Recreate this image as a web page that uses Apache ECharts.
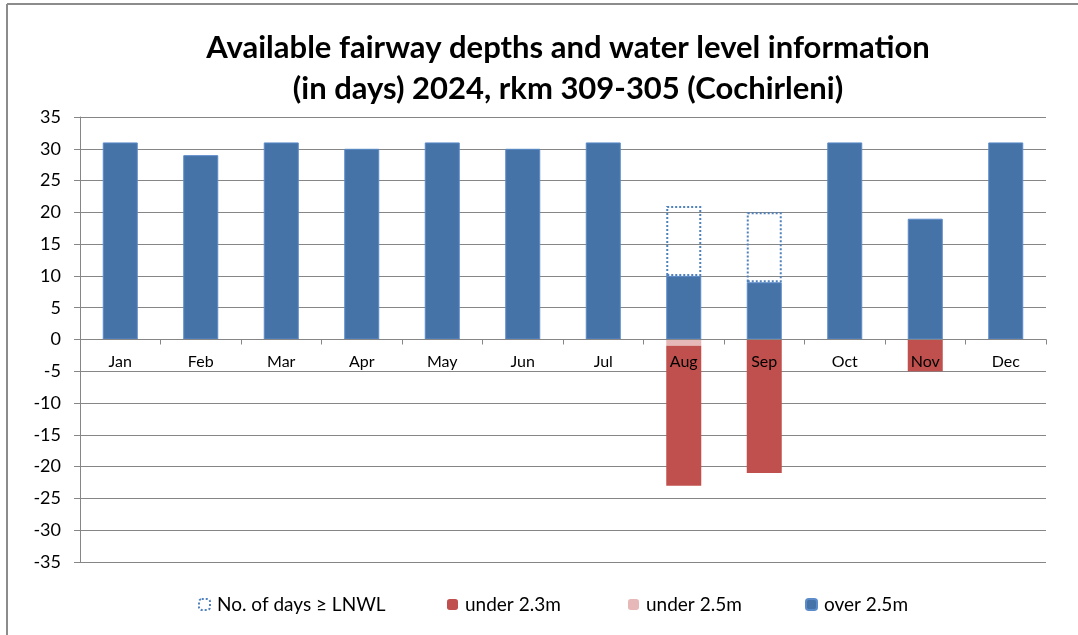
<!DOCTYPE html>
<html>
<head>
<meta charset="utf-8">
<script src="https://cdn.jsdelivr.net/npm/echarts@6/dist/echarts.min.js"></script>
<style>
html,body{margin:0;padding:0;background:#fff;}
#chart{width:1078px;height:635px;}
</style>
</head>
<body>
<div id="chart"></div>
<script>
const months = ['Jan','Feb','Mar','Apr','May','Jun','Jul','Aug','Sep','Oct','Nov','Dec'];
const over25 = [31,29,31,30,31,30,31,10,9,31,19,31];
const lnwlExtra = [null,null,null,null,null,null,null,11,11,null,null,null];
const under25 = [null,null,null,null,null,null,null,-1,null,null,null,null];
const under23 = [null,null,null,null,null,null,null,-22,-21,null,-5,null];
const yTicks = [-35,-30,-25,-20,-15,-10,-5,0,5,10,15,20,25,30,35];
const legendNames = ['No. of days ≥ LNWL','under 2.3m','under 2.5m','over 2.5m'];

const FONT = 'Lato';
const legendLeft = [193, 442, 623, 800];
const legends = legendNames.map((n, i) => ({
  left: legendLeft[i], top: 590,
  itemWidth: 11, itemHeight: 11, itemGap: 0,
  textStyle: {fontFamily: FONT, fontSize: 19, color: '#000', padding: [0,0,0,2]},
  data: [i === 0 ? {name: n, itemStyle: {color: 'rgba(255,255,255,0)', borderColor: '#4F81BD', borderWidth: 2, borderType: [2,2]}} : n]
}));

const chart = echarts.init(document.getElementById('chart'));
chart.setOption({
  animation: false,
  backgroundColor: '#fff',
  title: {
    text: 'Available fairway depths and water level information\n(in days) 2024, rkm 309-305 (Cochirleni)',
    left: 563, textAlign: 'center', top: 22,
    textStyle: {fontFamily: FONT, fontWeight: 'bold', fontSize: 31, lineHeight: 41, color: '#000'}
  },
  graphic: [
    {type: 'line', shape: {x1: 7, y1: 4, x2: 1078, y2: 4}, style: {stroke: '#8c8c8c', lineWidth: 2}},
    {type: 'line', shape: {x1: 7, y1: 4, x2: 7, y2: 635}, style: {stroke: '#8c8c8c', lineWidth: 2}}
  ],
  legend: legends,
  grid: {left: 80, right: 32, top: 117, bottom: 73},
  xAxis: {
    type: 'category', data: months, z: 10,
    position: 'bottom', offset: -222.5,
    axisLine: {onZero: false, lineStyle: {color: '#868686', width: 1}},
    axisTick: {show: true, length: 5, lineStyle: {color: '#868686'}},
    axisLabel: {fontFamily: FONT, fontSize: 16, color: '#000', margin: 14}
  },
  yAxis: {
    type: 'value', min: -35, max: 35, interval: 5,
    axisLine: {show: true, lineStyle: {color: '#868686'}},
    axisTick: {show: true, length: 6, lineStyle: {color: '#868686'}},
    axisLabel: {fontFamily: FONT, fontSize: 18, color: '#000', margin: 19,
      formatter: v => yTicks.includes(v) ? String(v) : ''},
    splitLine: {lineStyle: {color: '#868686', width: 1}}
  },
  series: [
    {name: 'over 2.5m', type: 'bar', stack: 's', barWidth: 35, data: over25,
     itemStyle: {color: '#4572A7', borderColor: '#5B8BC9', borderWidth: 1}},
    {name: 'No. of days ≥ LNWL', type: 'bar', stack: 's', barWidth: 35, data: lnwlExtra,
     itemStyle: {color: 'rgba(255,255,255,0)', borderColor: '#4F81BD', borderWidth: 2, borderType: [2,2]}},
    {name: 'under 2.5m', type: 'bar', stack: 's', barWidth: 35, data: under25,
     itemStyle: {color: '#E6B9B8'}},
    {name: 'under 2.3m', type: 'bar', stack: 's', barWidth: 35, data: under23,
     itemStyle: {color: '#C0504D'}}
  ]
});
</script>
</body>
</html>
